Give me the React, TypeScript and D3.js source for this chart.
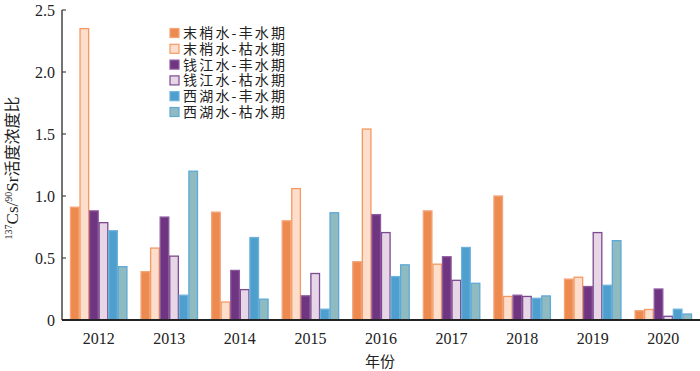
import React from "react";
import * as d3 from "d3";

const years = ["2012", "2013", "2014", "2015", "2016", "2017", "2018", "2019", "2020"];
const seriesNames = [
  "末梢水-丰水期",
  "末梢水-枯水期",
  "钱江水-丰水期",
  "钱江水-枯水期",
  "西湖水-丰水期",
  "西湖水-枯水期",
];
const moshaoFeng = [0.91, 0.39, 0.87, 0.8, 0.47, 0.88, 1.0, 0.33, 0.075];
const moshaoKu = [2.35, 0.58, 0.145, 1.06, 1.54, 0.45, 0.19, 0.345, 0.085];
const qianjiangFeng = [0.88, 0.83, 0.4, 0.195, 0.85, 0.51, 0.2, 0.27, 0.25];
const qianjiangKu = [0.785, 0.515, 0.245, 0.375, 0.705, 0.32, 0.19, 0.705, 0.03];
const xihuFeng = [0.72, 0.2, 0.665, 0.087, 0.35, 0.585, 0.175, 0.28, 0.087];
const xihuKu = [0.43, 1.2, 0.168, 0.865, 0.445, 0.296, 0.194, 0.64, 0.048];
const yTicks = [0, 0.5, 1.0, 1.5, 2.0, 2.5];

const allSeries = [moshaoFeng, moshaoKu, qianjiangFeng, qianjiangKu, xihuFeng, xihuKu];
const fills = ["#ED8A50", "#FDDDCB", "#6F3581", "#E6D6E6", "#4E9FCD", "#8FBBC0"];
const strokes = ["#F4A57A", "#F29A62", "#8C5A9E", "#7C4A90", "#6DB2DA", "#5DA9D8"];

const W = 700;
const H = 371;
const left = 62;
const bottom = 320;
const top = 10;

export default function App() {
  const x = d3.scaleBand().domain(years).range([left, W]).paddingInner(0.2).paddingOuter(0.12);
  const xs = d3
    .scaleBand()
    .domain(seriesNames)
    .range([0, x.bandwidth()])
    .paddingInner(0.1);
  const y = d3.scaleLinear().domain([0, 2.5]).range([bottom, top]);
  const fmt = (v: number) => (v === 0 ? "0" : v.toFixed(1));
  const serif = "'Liberation Serif', 'Times New Roman', serif";
  const cjk = "'Noto Sans CJK SC', sans-serif";

  return (
    <div style={{ position: "absolute", left: 0, top: 0 }}>
      <svg width={W} height={H} style={{ display: "block", background: "#fff" }}>
        {allSeries.map((vals, si) =>
          vals.map((v, i) => (
            <rect
              key={`${si}-${i}`}
              x={(x(years[i]) ?? 0) + (xs(seriesNames[si]) ?? 0)}
              y={y(v)}
              width={xs.bandwidth()}
              height={bottom - y(v)}
              fill={fills[si]}
              stroke={strokes[si]}
              strokeWidth={1.3}
            />
          ))
        )}

        {/* y axis */}
        <line x1={left} x2={left} y1={top} y2={bottom} stroke="#444" strokeWidth={1.5} />
        {yTicks.map((t) => (
          <g key={t}>
            <line x1={left} x2={left + 4} y1={y(t)} y2={y(t)} stroke="#444" strokeWidth={1.2} />
            <text
              x={left - 7}
              y={y(t)}
              dy="0.35em"
              textAnchor="end"
              fontFamily={serif}
              fontSize={16}
              fill="#222"
            >
              {fmt(t)}
            </text>
          </g>
        ))}
        <text
          transform={`translate(18,168) rotate(-90)`}
          textAnchor="middle"
          fill="#222"
        >
          <tspan fontFamily={serif} fontSize={10} dy={-6}>137</tspan>
          <tspan fontFamily={serif} fontSize={17} dy={6}>Cs/</tspan>
          <tspan fontFamily={serif} fontSize={10} dy={-6}>90</tspan>
          <tspan fontFamily={serif} fontSize={17} dy={6}>Sr</tspan>
          <tspan fontFamily={cjk} fontSize={16}>活度浓度比</tspan>
        </text>

        {/* x axis */}
        <line x1={left} x2={W} y1={bottom} y2={bottom} stroke="#222" strokeWidth={1.8} />
        {years.map((yr) => (
          <text
            key={yr}
            x={(x(yr) ?? 0) + x.bandwidth() / 2}
            y={344}
            textAnchor="middle"
            fontFamily={serif}
            fontSize={16}
            fill="#222"
          >
            {yr}
          </text>
        ))}
        <text x={380} y={367} textAnchor="middle" fontFamily={cjk} fontSize={15} fill="#222">
          年份
        </text>

        {/* legend */}
        {seriesNames.map((name, i) => (
          <g key={name} transform={`translate(170,${33 + i * 15.8})`}>
            <rect
              x={0}
              y={-4.5}
              width={9}
              height={9}
              fill={fills[i]}
              stroke={strokes[i]}
              strokeWidth={1.2}
            />
            <text
              x={13}
              y={0}
              dy="0.36em"
              fontFamily={cjk}
              fontSize={14}
              letterSpacing={2.2}
              fill="#222"
            >
              {name}
            </text>
          </g>
        ))}
      </svg>
    </div>
  );
}
